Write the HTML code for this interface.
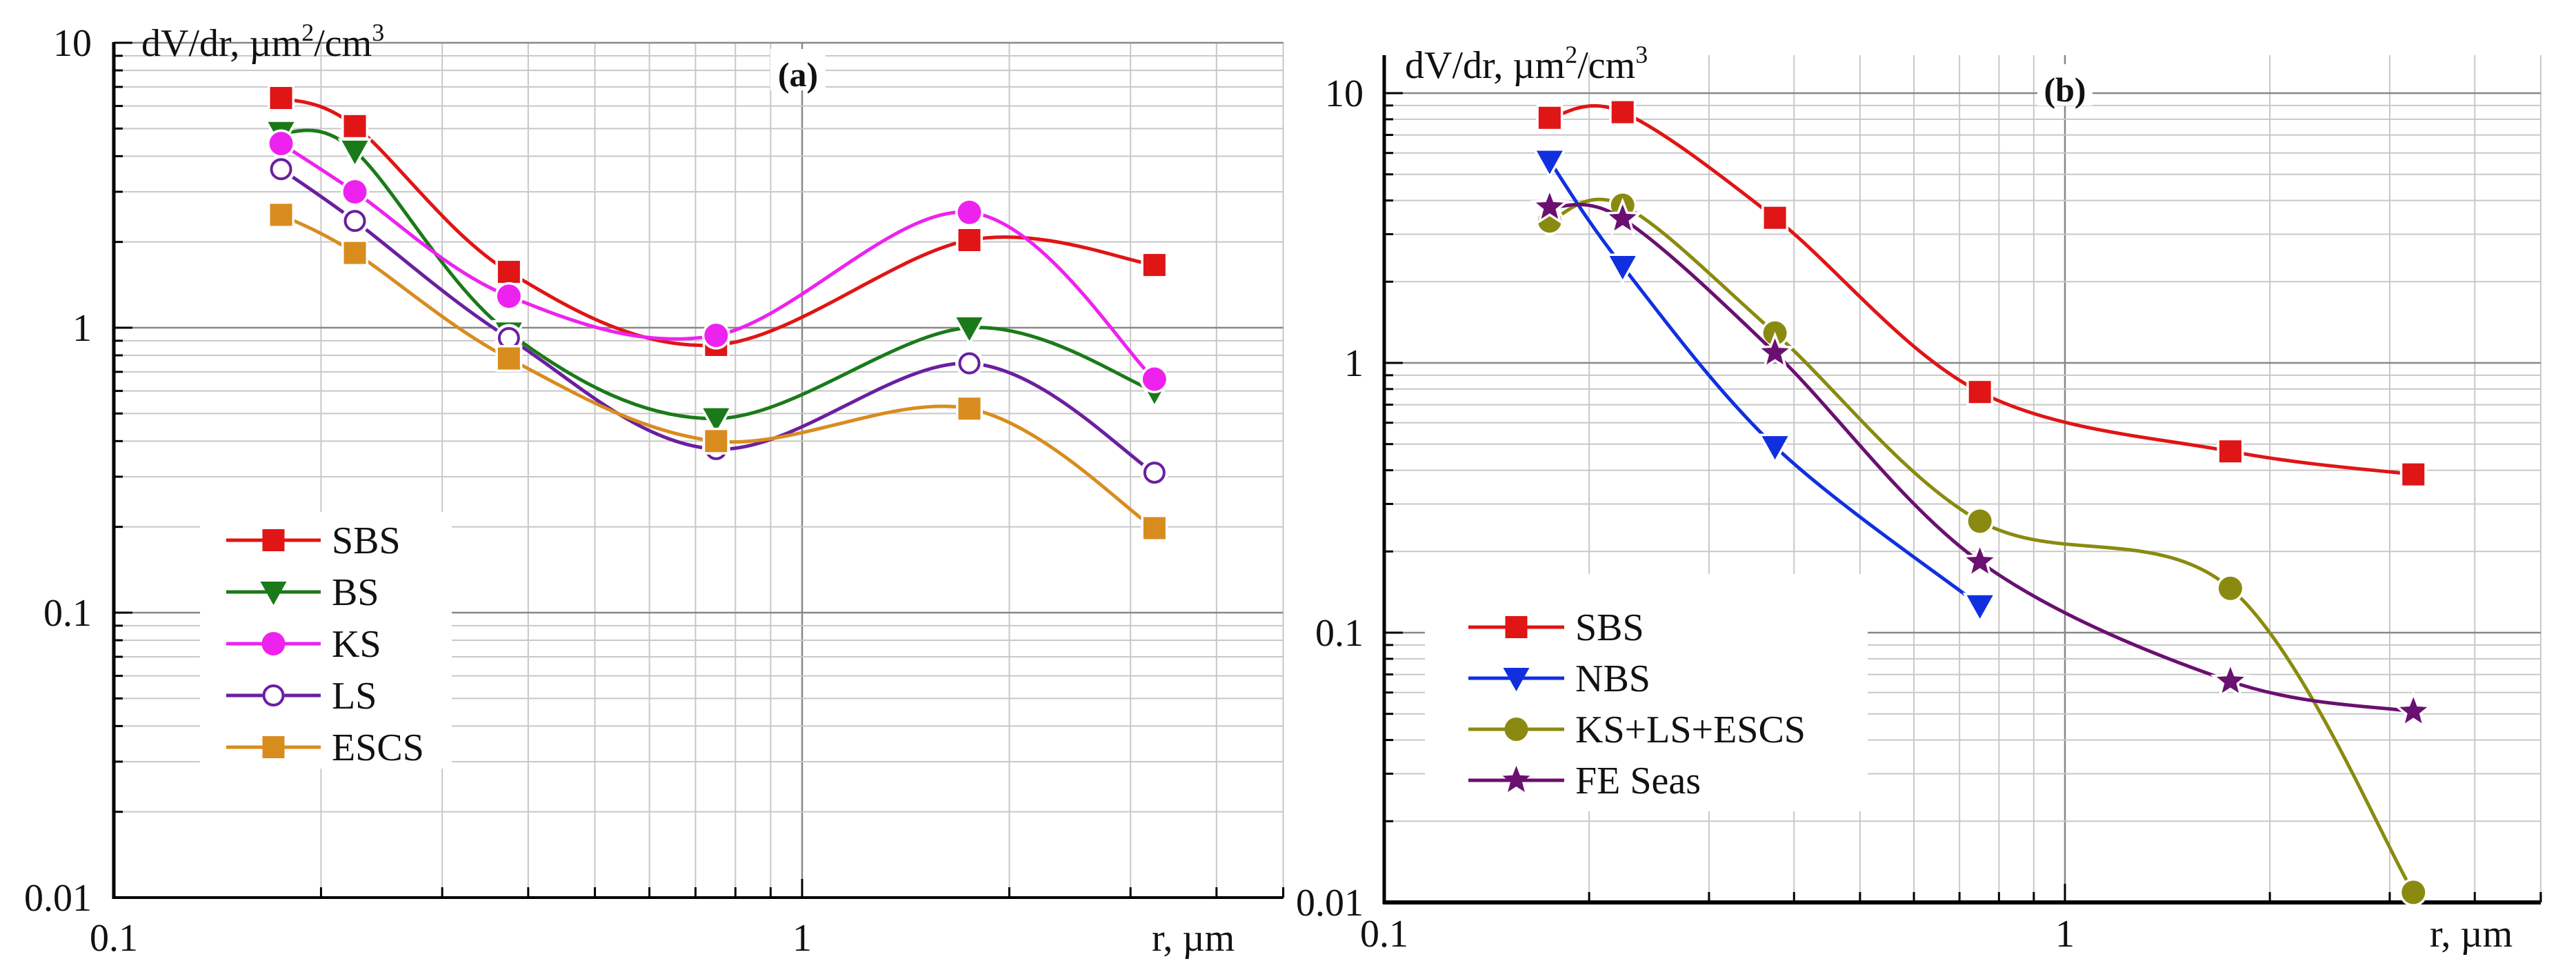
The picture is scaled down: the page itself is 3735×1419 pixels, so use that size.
<!DOCTYPE html>
<html><head><meta charset="utf-8"><style>
html,body{margin:0;padding:0;background:#fff;}
svg{display:block;}
text{font-family:"Liberation Serif",serif;fill:#111;}
</style></head><body>
<svg id="c" width="3735" height="1419" viewBox="0 0 3735 1419"></svg>
<script>
// ---- data ----
const radii = [0.175, 0.224, 0.375, 0.75, 1.75, 3.25];
const aNames = ["SBS","BS","KS","LS","ESCS"];
const aSBS  = [6.4, 5.1, 1.57, 0.87, 2.03, 1.66];
const aBS   = [4.85, 4.17, 0.96, 0.48, 1.0, 0.6];
const aKS   = [4.43, 3.0, 1.29, 0.94, 2.54, 0.66];
const aLS   = [3.6, 2.37, 0.92, 0.375, 0.75, 0.31];
const aESCS = [2.49, 1.83, 0.78, 0.40, 0.52, 0.198];
const bNames = ["SBS","NBS","KS+LS+ESCS","FE Seas"];
const bSBS  = [8.1, 8.5, 3.45, 0.78, 0.47, 0.386];
const bNBS  = [5.6, 2.28, 0.49, 0.126];
const bKLE  = [3.36, 3.84, 1.29, 0.259, 0.146, 0.0109];
const bFE   = [3.78, 3.42, 1.09, 0.183, 0.066, 0.051];
const xTicks = ["0.1","1"];
const yTicks = ["0.01","0.1","1","10"];

const NS="http://www.w3.org/2000/svg";
const svg=document.getElementById('c');
function mk(tag,attrs,parent){const e=document.createElementNS(NS,tag);for(const k in attrs)e.setAttribute(k,attrs[k]);(parent||svg).appendChild(e);return e;}

function panel(P){
  const g=mk('g',{});
  
  
  const X=v=>P.x0+(Math.log10(v)+1)*P.dx;
  const Y=v=>P.y1-(Math.log10(v)+2)*P.dy;
  const xMax=X(5), yTopPix=P.yTop;
  // grid
  const grid=mk('g',{},g);
  
  
  for(let d=-1;d<=0;d++)for(let m=1;m<=9;m++){const v=m*Math.pow(10,d);if(v<=0.1||v>5)continue;const x=X(v);
    mk('line',{x1:x,x2:x,y1:yTopPix,y2:P.y1,stroke:m===1?'#888':'#c8c8c8','stroke-width':m===1?2.5:2},grid);}
  for(let d=-2;d<=1;d++)for(let m=1;m<=9;m++){const v=m*Math.pow(10,d);if(v<=0.01)continue;const y=Y(v);if(y<yTopPix-1)continue;
    mk('line',{x1:P.x0,x2:xMax,y1:y,y2:y,stroke:m===1?'#888':'#c8c8c8','stroke-width':m===1?2.5:2},grid);}
  // legend background
  mk('rect',{x:P.lg.bx,y:P.lg.by,width:P.lg.bw,height:P.lg.bh,fill:'#fff'},g);
  // title label bg
  mk('rect',{x:P.tx-40,y:P.ty-38,width:80,height:60,fill:'#fff'},g);
  // axes
  const ax=mk('g',{},g);
  
  
  mk('line',{x1:P.x0,x2:P.x0,y1:yTopPix,y2:P.y1+2,stroke:'#000','stroke-width':5},ax);
  mk('line',{x1:P.x0-2,x2:xMax,y1:P.y1,y2:P.y1,stroke:'#000','stroke-width':P.xw},ax);
  for(let d=-2;d<=1;d++)for(let m=1;m<=9;m++){const v=m*Math.pow(10,d);const y=Y(v);if(y<yTopPix-1||y>P.y1)continue;
    mk('line',{x1:P.x0,x2:P.x0+(m===1?27:13),y1:y,y2:y,stroke:'#000','stroke-width':3},ax);}
  for(let d=-1;d<=0;d++)for(let m=1;m<=9;m++){const v=m*Math.pow(10,d);if(v>5.01)continue;const x=X(v);
    mk('line',{x1:x,x2:x,y1:P.y1,y2:P.y1-(m===1?27:15),stroke:'#000','stroke-width':3},ax);}
  mk('line',{x1:xMax,x2:xMax,y1:P.y1,y2:P.y1-15,stroke:'#000','stroke-width':3},ax);
  yTicks.forEach(t=>{const e=mk('text',{x:P.x0-P.ylOff,y:Y(+t)+19,'font-size':56,'text-anchor':'end'},ax);e.textContent=t;
    
    });
  xTicks.forEach(t=>{const e=mk('text',{x:X(+t),y:P.xly,'font-size':56,'text-anchor':'middle'},ax);e.textContent=t;
    
    });
  let e=mk('text',{x:P.xtx,y:P.xly,'font-size':56},g);e.textContent='r, µm';
  
  
  e=mk('text',{x:P.ytx,y:P.yty,'font-size':56},g);
  e.innerHTML='dV/dr, µm<tspan dy="-22" font-size="36">2</tspan><tspan dy="22">/cm</tspan><tspan dy="-22" font-size="36">3</tspan>';
  
  
  e=mk('text',{x:P.tx,y:P.ty+16,'font-size':50,'font-weight':'bold','text-anchor':'middle'},g);e.textContent=P.title;
  
  
  // series
  P.series.forEach((s,i)=>{
    const sg=mk('g',{},g);
    
    
    const pts=s.vals.map((v,j)=>[X(radii[j]),Y(v)]);
    let d='M'+pts[0][0]+','+pts[0][1];
    for(let j=0;j<pts.length-1;j++){const p0=pts[Math.max(0,j-1)],p1=pts[j],p2=pts[j+1],p3=pts[Math.min(pts.length-1,j+2)];
      const c1=[p1[0]+(p2[0]-p0[0])/6,p1[1]+(p2[1]-p0[1])/6],c2=[p2[0]-(p3[0]-p1[0])/6,p2[1]-(p3[1]-p1[1])/6];
      d+=' C'+c1+' '+c2+' '+p2;}
    mk('path',{d:d,fill:'none',stroke:s.color,'stroke-width':5},sg);
    pts.forEach(p=>{const m=marker(s.shape,p[0],p[1],s.color,sg,true);
      
      });
    // legend
    const ly=P.lg.y0+i*P.lg.step;
    const lg=mk('g',{},g);
    
    
    mk('line',{x1:P.lg.x1,x2:P.lg.x2,y1:ly,y2:ly,stroke:s.color,'stroke-width':5},lg);
    marker(s.shape,(P.lg.x1+P.lg.x2)/2,ly,s.color,lg,false);
    const t=mk('text',{x:P.lg.x2+16,y:ly+19,'font-size':56},lg);t.textContent=s.name;
  });
}
function marker(shape,x,y,c,parent,halo){
  const g=mk('g',{},parent);const sw=halo?7:0;const hs=halo?'#fff':'none';
  const r=16;
  if(shape==='sq')mk('rect',{x:x-r,y:y-r,width:2*r,height:2*r,fill:c,stroke:hs,'stroke-width':sw,'paint-order':'stroke'},g);
  else if(shape==='tri')mk('polygon',{points:`${x-19},${y-15} ${x+19},${y-15} ${x},${y+19}`,fill:c,stroke:hs,'stroke-width':sw,'paint-order':'stroke'},g);
  else if(shape==='dot')mk('circle',{cx:x,cy:y,r:r+1,fill:c,stroke:hs,'stroke-width':sw,'paint-order':'stroke'},g);
  else if(shape==='ring'){mk('circle',{cx:x,cy:y,r:r,fill:'#fff',stroke:halo?'#fff':'none','stroke-width':9},g);mk('circle',{cx:x,cy:y,r:r-2,fill:'#fff',stroke:c,'stroke-width':4},g);}
  else if(shape==='star'){let p=[];for(let k=0;k<10;k++){const a=-Math.PI/2+k*Math.PI/5,rr=k%2?9:21;p.push((x+rr*Math.cos(a))+','+(y+rr*Math.sin(a)));}
    mk('polygon',{points:p.join(' '),fill:c,stroke:hs,'stroke-width':sw,'paint-order':'stroke'},g);}
  return g;
}
panel({name:'chart-a',x0:165,dx:998,y1:1301,dy:413,yTop:61,xw:4,ylOff:32,xly:1378,xtx:1670,ytx:205,yty:81,tx:1157,ty:109,title:'(a)',
  lg:{bx:290,by:742,bw:365,bh:372,x1:328,x2:465,y0:783,step:75},
  series:[{name:aNames[0],vals:aSBS,color:'#e01515',shape:'sq'},{name:aNames[1],vals:aBS,color:'#1a7a1a',shape:'tri'},
    {name:aNames[2],vals:aKS,color:'#ee22ee',shape:'dot'},{name:aNames[3],vals:aLS,color:'#6a1fa0',shape:'ring'},
    {name:aNames[4],vals:aESCS,color:'#d98c1e',shape:'sq'}]});
panel({name:'chart-b',x0:2007,dx:987,y1:1308,dy:391,yTop:80,xw:6,ylOff:30,xly:1372,xtx:3523,ytx:2037,yty:113,tx:2994,ty:131,title:'(b)',
  lg:{bx:2066,by:832,bw:642,bh:344,x1:2129,x2:2268,y0:909,step:74},
  series:[{name:bNames[0],vals:bSBS,color:'#e01515',shape:'sq'},{name:bNames[1],vals:bNBS,color:'#1030e0',shape:'tri'},
    {name:bNames[2],vals:bKLE,color:'#8a8a10',shape:'dot'},{name:bNames[3],vals:bFE,color:'#6a1070',shape:'star'}]});
</script>
</body></html>
